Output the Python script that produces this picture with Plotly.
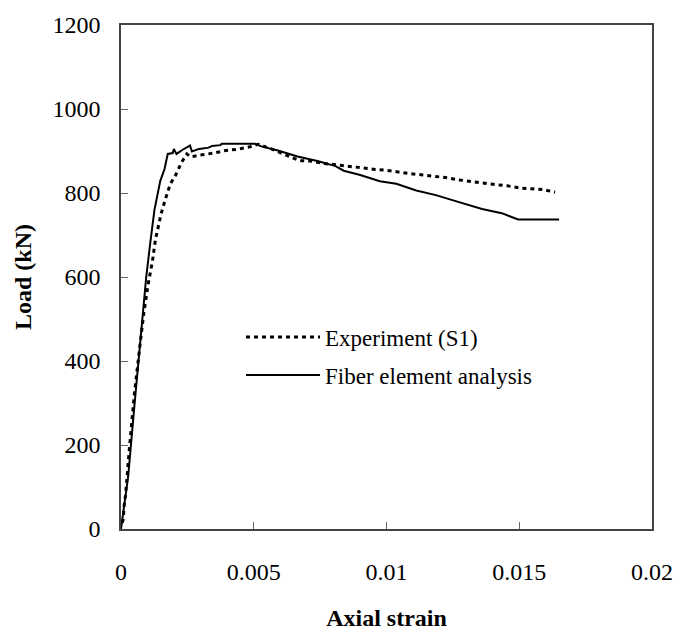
import plotly.graph_objects as go

# Fiber element analysis (solid)
fiber_strain = [0, 0.00027, 0.0005, 0.00071, 0.00095, 0.0011, 0.00126, 0.00148, 0.00164,
                0.00176, 0.00195, 0.00199, 0.00209, 0.00232, 0.00244, 0.0026, 0.00267,
                0.00294, 0.0033, 0.00343, 0.00374, 0.0038, 0.00504, 0.00529, 0.00591,
                0.00665, 0.0074, 0.00808, 0.00839, 0.00901, 0.00975, 0.01037, 0.01112,
                0.01186, 0.01248, 0.01297, 0.0136, 0.01434, 0.01496, 0.0165]
fiber_load = [0, 125, 290, 443, 600, 680, 760, 829, 857,
              893, 895, 905, 893, 903, 908, 913, 899,
              905, 908, 912, 914, 917, 917, 911, 901,
              887, 876, 864, 853, 843, 828, 822, 806,
              795, 783, 774, 762, 752, 737, 737]

# Experiment (S1) (dotted)
exp_strain = [0.00005, 0.00009, 0.00011, 0.00017, 0.0003, 0.0005, 0.0007, 0.00085, 0.00102,
              0.00118, 0.0013, 0.00142, 0.00151, 0.00164, 0.00176, 0.00186, 0.00207,
              0.00228, 0.00248, 0.00262, 0.00306, 0.00349, 0.00393, 0.00436, 0.00486,
              0.00517, 0.00566, 0.00603, 0.00641, 0.00672, 0.00715, 0.00765, 0.00814,
              0.00866, 0.00911, 0.00957, 0.01, 0.01046, 0.01089, 0.01137, 0.0118,
              0.0123, 0.01276, 0.01322, 0.01365, 0.01412, 0.01456, 0.01502, 0.01545,
              0.01589, 0.01635]
exp_load = [15, 25, 52, 80, 180, 320, 430, 510, 582,
            636, 690, 727, 750, 779, 806, 822, 844,
            873, 893, 886, 891, 895, 901, 904, 910,
            916, 905, 895, 884, 877, 876, 870, 867,
            863, 858, 856, 854, 849, 846, 843, 840,
            836, 831, 827, 823, 820, 817, 812, 810,
            808, 802]

x_ticks = [0, 0.005, 0.01, 0.015, 0.02]
x_ticktext = ["0", "0.005", "0.01", "0.015", "0.02"]
y_ticks = [0, 200, 400, 600, 800, 1000, 1200]

FONT = "Liberation Serif, Times New Roman, serif"

fig = go.Figure()
fig.add_trace(go.Scatter(x=exp_strain, y=exp_load, mode="lines", name="Experiment (S1)",
                         line=dict(color="black", width=3, dash="4px,4px"),
                         legendgroup="a"))
fig.add_trace(go.Scatter(x=fiber_strain, y=fiber_load, mode="lines", name="Fiber element analysis",
                         line=dict(color="black", width=2),
                         legendgroup="b"))

axis_common = dict(showgrid=False, zeroline=False, showline=True, linecolor="#444",
                   linewidth=1.5, mirror=True, ticks="inside", ticklen=7,
                   tickcolor="#666", tickwidth=1,
                   tickfont=dict(family=FONT, size=24, color="black"))

fig.update_layout(
    width=685, height=639,
    margin=dict(l=121, r=26, t=17, b=105),
    paper_bgcolor="white", plot_bgcolor="white",
    font=dict(family=FONT, color="black"),
    xaxis=dict(range=[0, 0.02], tickvals=x_ticks, ticktext=x_ticktext,
               ticklabelstandoff=20,
               title=dict(text="<b>Axial strain</b>", font=dict(family=FONT, size=24), standoff=26),
               **axis_common),
    yaxis=dict(range=[0, 1200], tickvals=y_ticks, ticklabelstandoff=14,
               title=dict(text="<b>Load (kN)</b>", font=dict(family=FONT, size=24), standoff=14),
               **axis_common),
    legend=dict(x=0.226, xanchor="left", y=0.4235, yanchor="top",
                bgcolor="rgba(0,0,0,0)", itemwidth=74, tracegroupgap=5,
                font=dict(family=FONT, size=23, color="black")),
    showlegend=True,
)

fig.write_html("out.html")
